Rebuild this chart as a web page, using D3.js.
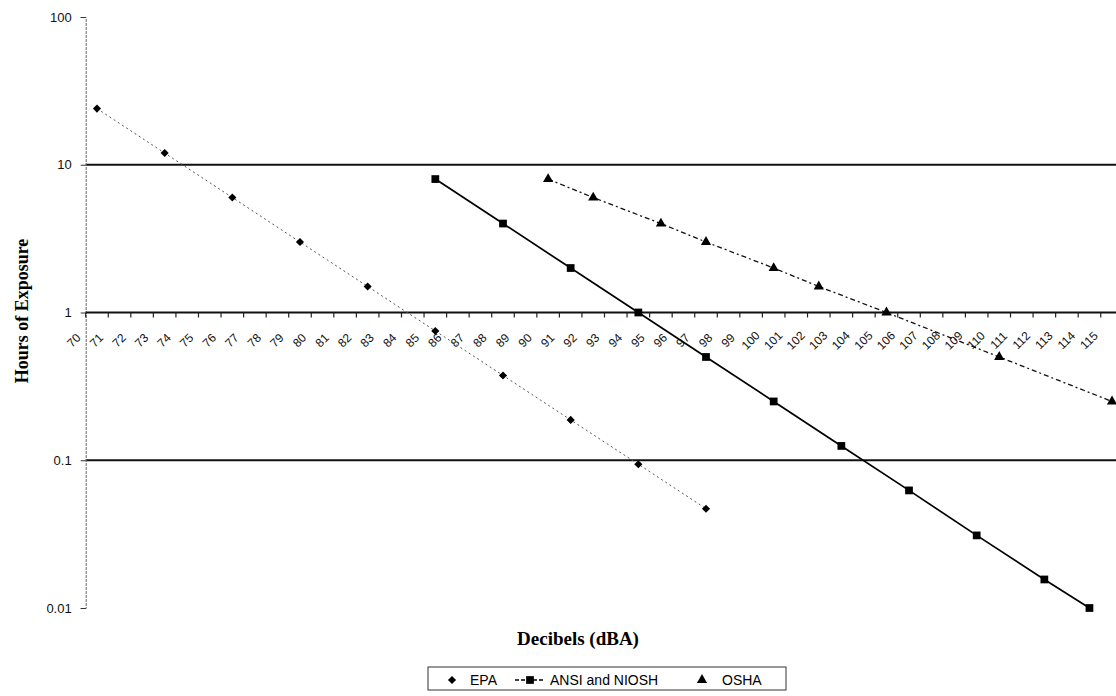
<!DOCTYPE html>
<html>
<head>
<meta charset="utf-8">
<script src="https://cdn.jsdelivr.net/npm/d3@7"></script>
<style>
  body { margin: 0; background: #fff; }
  svg { display: block; }
</style>
</head>
<body>
<script>
// decibel categories on the x axis
var decibels = [70,71,72,73,74,75,76,77,78,79,80,81,82,83,84,85,86,87,88,89,90,91,92,
                93,94,95,96,97,98,99,100,101,102,103,104,105,106,107,108,109,110,111,
                112,113,114,115];

var epaDb = [70,73,76,79,82,85,88,91,94,97];
var epaHours = [24,12,6,3,1.5,0.75,0.375,0.1875,0.094,0.047];

var nioshDb = [85,88,91,94,97,100,103,106,109,112,114];
var nioshHours = [8,4,2,1,0.5,0.25,0.125,0.0625,0.031,0.0156,0.01];

var oshaDb = [90,92,95,97,100,102,105,110,115];
var oshaHours = [8,6,4,3,2,1.5,1,0.5,0.25];

var yTicks = [0.01,0.1,1,10,100];
var yTickLabels = ["0.01","0.1","1","10","100"];
var gridValues = [0.1,10];

var width = 1116, height = 696;

var svg = d3.select("body").append("svg")
  .attr("width", width)
  .attr("height", height);

var x = d3.scaleBand().domain(decibels).range([85.7, 1123.3]);
var y = d3.scaleLog().domain([0.01, 100]).range([608, 17]);
var bw = x.bandwidth();
function cx(d) { return x(d) + bw / 2; }

// horizontal gridlines
svg.selectAll("line.grid")
  .data(gridValues)
  .enter().append("line")
  .attr("class", "grid")
  .attr("x1", x.range()[0]).attr("x2", width)
  .attr("y1", function(d) { return y(d); })
  .attr("y2", function(d) { return y(d); })
  .attr("stroke", "#111").attr("stroke-width", 1.8);

// y axis
var yAxis = svg.append("g")
  .attr("transform", "translate(" + x.range()[0] + ",0)")
  .call(d3.axisLeft(y).tickValues(yTicks)
    .tickFormat(function(d, i) { return yTickLabels[i]; })
    .tickSize(5).tickPadding(9));
yAxis.select(".domain").attr("stroke", "#666").attr("stroke-dasharray", "3,1");
yAxis.selectAll(".tick line").attr("stroke", "#333");
yAxis.selectAll("text")
  .attr("font-family", "Liberation Sans, Arial, sans-serif")
  .attr("font-size", 13).attr("fill", "#111");

// x axis crossing at 1 hour
var axisY = y(1);
svg.append("line")
  .attr("x1", x.range()[0]).attr("x2", width)
  .attr("y1", axisY).attr("y2", axisY)
  .attr("stroke", "#111").attr("stroke-width", 1.8);

svg.selectAll("line.xtick")
  .data(decibels)
  .enter().append("line")
  .attr("class", "xtick")
  .attr("x1", function(d) { return x(d); })
  .attr("x2", function(d) { return x(d); })
  .attr("y1", axisY).attr("y2", axisY + 5)
  .attr("stroke", "#222").attr("stroke-width", 1.2);

svg.selectAll("text.xlabel")
  .data(decibels)
  .enter().append("text")
  .attr("class", "xlabel")
  .attr("transform", function(d) {
    return "translate(" + (cx(d) - 23) + "," + (axisY + 28) + ") rotate(-45)";
  })
  .attr("text-anchor", "middle")
  .attr("dominant-baseline", "central")
  .attr("font-family", "Liberation Sans, Arial, sans-serif")
  .attr("font-size", 12)
  .attr("fill", "#111")
  .text(function(d) { return d; });

// series
var series = [
  { name: "EPA", db: epaDb, hours: epaHours, symbol: d3.symbolDiamond2, size: 42,
    stroke: "#555", width: 1, dash: "2,3", legendLine: false },
  { name: "ANSI and NIOSH", db: nioshDb, hours: nioshHours, symbol: d3.symbolSquare, size: 60,
    stroke: "#000", width: 1.7, dash: null, legendLine: true },
  { name: "OSHA", db: oshaDb, hours: oshaHours, symbol: d3.symbolTriangle, size: 45,
    stroke: "#111", width: 1.3, dash: "5,3,2,3", legendLine: false }
];

var line = d3.line()
  .x(function(p) { return cx(p[0]); })
  .y(function(p) { return y(p[1]); });

series.forEach(function(s) {
  var pts = s.db.map(function(d, i) { return [d, s.hours[i]]; });
  svg.append("path")
    .datum(pts)
    .attr("d", line)
    .attr("fill", "none")
    .attr("stroke", s.stroke)
    .attr("stroke-width", s.width)
    .attr("stroke-dasharray", s.dash);
  svg.selectAll(null)
    .data(pts)
    .enter().append("path")
    .attr("transform", function(p) { return "translate(" + cx(p[0]) + "," + y(p[1]) + ")"; })
    .attr("d", d3.symbol().type(s.symbol).size(s.size))
    .attr("fill", "#000");
});

// axis titles
svg.append("text")
  .attr("x", 578).attr("y", 645)
  .attr("text-anchor", "middle")
  .attr("font-family", "Liberation Serif, Times New Roman, serif")
  .attr("font-weight", "bold")
  .attr("font-size", 19)
  .text("Decibels (dBA)");

svg.append("text")
  .attr("transform", "translate(28,311) rotate(-90)")
  .attr("text-anchor", "middle")
  .attr("font-family", "Liberation Serif, Times New Roman, serif")
  .attr("font-weight", "bold")
  .attr("font-size", 18)
  .text("Hours of Exposure");

// legend
var legend = svg.append("g");
legend.append("rect")
  .attr("x", 428).attr("y", 667).attr("width", 358).attr("height", 23)
  .attr("fill", "#fff").attr("stroke", "#333").attr("stroke-width", 1);

var legendItems = [
  { s: series[0], mx: 452, tx: 470, lx: [440, 464] },
  { s: series[1], mx: 530, tx: 550, lx: [515, 545] },
  { s: series[2], mx: 702, tx: 722, lx: [690, 714] }
];
legendItems.forEach(function(it) {
  if (it.s.legendLine) {
    legend.append("line")
      .attr("x1", it.lx[0]).attr("x2", it.lx[1])
      .attr("y1", 680).attr("y2", 680)
      .attr("stroke", it.s.stroke).attr("stroke-width", it.s.width)
      .attr("stroke-dasharray", "4,2");
  }
  legend.append("path")
    .attr("transform", "translate(" + it.mx + ",680)")
    .attr("d", d3.symbol().type(it.s.symbol).size(it.s.size))
    .attr("fill", "#000");
  legend.append("text")
    .attr("x", it.tx).attr("y", 685)
    .attr("font-family", "Liberation Sans, Arial, sans-serif")
    .attr("font-size", 14)
    .text(it.s.name);
});
</script>
</body>
</html>
